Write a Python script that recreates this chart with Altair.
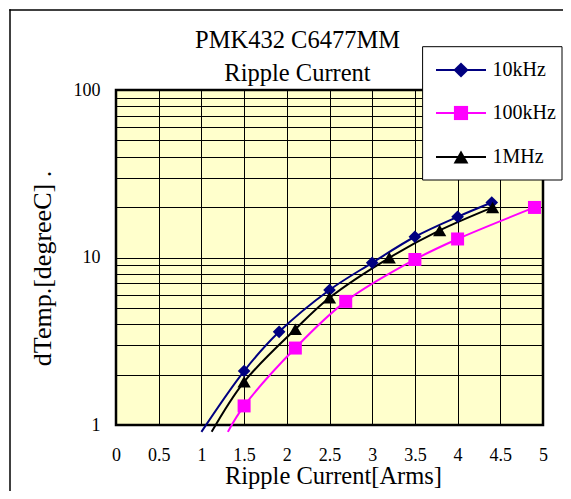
import altair as alt
import pandas as pd

# ---- data ----
series_names = ["10kHz", "100kHz", "1MHz"]
series_colors = ["#000080", "#FF00FF", "#000000"]
series_shapes = ["diamond", "square", "triangle-up"]
marker_sizes = [160, 169, 175]

x_10k = [1.5, 1.91, 2.5, 3.0, 3.5, 4.0, 4.4]
y_10k = [2.1, 3.6, 6.4, 9.3, 13.3, 17.5, 21.3]

x_100k = [1.5, 2.1, 2.69, 3.5, 4.0, 4.9]
y_100k = [1.3, 2.88, 5.47, 9.73, 12.9, 19.9]

x_1m = [1.5, 2.1, 2.5, 3.2, 3.79, 4.41]
y_1m = [1.81, 3.73, 5.75, 9.96, 14.5, 19.9]

# where each curve starts (just below the axis floor)
tail_x = [1.0, 1.31, 1.12]
tail_y = [0.91, 0.91, 0.91]

x_ticks = [0, 0.5, 1, 1.5, 2, 2.5, 3, 3.5, 4, 4.5, 5]
y_grid = [1, 2, 3, 4, 5, 6, 7, 8, 9, 10, 20, 30, 40, 50, 60, 70, 80, 90, 100]
y_labels = [1, 10, 100]

title_lines = ["PMK432 C6477MM", "Ripple Current"]
x_title = "Ripple Current[Arms]"
y_title = "dTemp.[degreeC] ."

# ---- tables ----
rows = []
for name, xs, ys, tx, ty in zip(series_names, [x_10k, x_100k, x_1m], [y_10k, y_100k, y_1m], tail_x, tail_y):
    rows.append({"series": name, "x": tx, "y": ty, "marker": False})
    for a, b in zip(xs, ys):
        rows.append({"series": name, "x": a, "y": b, "marker": True})
df = pd.DataFrame(rows)

FONT = "Liberation Serif"
W, H = 427, 335

xenc = alt.X(
    "x:Q",
    scale=alt.Scale(domain=[0, 5], nice=False, zero=False),
    axis=alt.Axis(
        values=x_ticks, format="~g", grid=True, gridColor="black", gridWidth=1, gridOpacity=1,
        domain=False, ticks=False, tickSize=0, labelFont=FONT, labelFontSize=18, labelColor="black",
        labelPadding=21, labelFlush=False, labelOverlap=False,
        title=x_title, titleFont=FONT, titleFontSize=24.5, titleFontWeight="normal", titleColor="black",
        titleX=217, titleY=58, titleAlign="center", titleBaseline="alphabetic", titleAngle=0,
    ),
)
label_list = ", ".join(str(v) for v in y_labels)
yenc = alt.Y(
    "y:Q",
    scale=alt.Scale(type="log", domain=[1, 100], nice=False),
    axis=alt.Axis(
        values=y_grid, grid=True, gridColor="black", gridWidth=1, gridOpacity=1,
        domain=False, ticks=False, tickSize=0,
        labelExpr=f"indexof([{label_list}], datum.value) >= 0 ? format(datum.value, 'd') : ''",
        labelFont=FONT, labelFontSize=18, labelColor="black", labelPadding=16, labelOverlap=False,
        labelBaseline="middle",
        title=y_title, titleFont=FONT, titleFontSize=26, titleFontWeight="normal", titleColor="black",
        titleX=-66, titleY=178, titleAngle=270, titleAlign="center", titleBaseline="alphabetic",
    ),
)
color_scale = alt.Scale(domain=series_names, range=series_colors)

one = pd.DataFrame({"k": [0]})

# outer frame: only its top and left edges are in view (kept inside the drawing area)
frame_top = alt.Chart(one).mark_rule(color="black", strokeWidth=1.5, clip=False).encode(
    x=alt.value(-106.75), x2=alt.value(447), y=alt.value(-80)
)
frame_left = alt.Chart(one).mark_rule(color="black", strokeWidth=1.5, clip=False).encode(
    x=alt.value(-106), y=alt.value(-80.75), y2=alt.value(401)
)

lines = alt.Chart(df).mark_line(interpolate="catmull-rom", strokeWidth=2, clip=False).encode(
    x=xenc, y=yenc,
    color=alt.Color("series:N", scale=color_scale, legend=None),
    order=alt.Order("x:Q"),
)

point_layers = []
for name, shp, sz in zip(series_names, series_shapes, marker_sizes):
    point_layers.append(
        alt.Chart(df).transform_filter(
            f"datum.marker && datum.series == '{name}'"
        ).mark_point(shape=shp, filled=True, opacity=1, size=sz, clip=False).encode(
            x=alt.X("x:Q"), y=alt.Y("y:Q"),
            color=alt.Color("series:N", scale=color_scale, legend=None),
        )
    )

# ---- legend box (drawn as marks) ----
legend_box = alt.Chart(one).mark_rect(fill="white", stroke="black", strokeWidth=1, clip=False).encode(
    x=alt.value(306.6), x2=alt.value(446), y=alt.value(-43.3), y2=alt.value(90)
)
legend_rows_y = [-20, 23, 67]
legend_marker_sizes = [230, 200, 220]
legend_layers = [legend_box]
for name, col, shp, sz, ry in zip(series_names, series_colors, series_shapes, legend_marker_sizes, legend_rows_y):
    legend_layers.append(
        alt.Chart(one).mark_rule(color=col, strokeWidth=2, clip=False).encode(
            x=alt.value(320), x2=alt.value(370), y=alt.value(ry)
        )
    )
    legend_layers.append(
        alt.Chart(one).mark_point(shape=shp, filled=True, opacity=1, color=col, size=sz, clip=False).encode(
            x=alt.value(345), y=alt.value(ry)
        )
    )
    legend_layers.append(
        alt.Chart(one).mark_text(
            font=FONT, fontSize=20, color="black", align="left", baseline="middle", clip=False
        ).encode(x=alt.value(376.5), y=alt.value(ry), text=alt.value(name))
    )

title = alt.Chart(one).mark_text(
    font=FONT, fontSize=24.5, color="black", align="center", baseline="top", lineHeight=32.7
).encode(x=alt.value(181.5), y=alt.value(-61.1), text=alt.value(title_lines))

chart = alt.layer(frame_top, frame_left, lines, *point_layers, *legend_layers, title).properties(
    width=W, height=H,
    background="white",
    autosize=alt.AutoSizeParams(type="none"),
    padding={"left": 108, "top": 82, "right": 20, "bottom": 66},
).configure_view(
    fill="#FFFFCC", stroke="black", strokeWidth=2.5
)

chart.save("out.html", embed_options={"renderer": "svg", "actions": False})
